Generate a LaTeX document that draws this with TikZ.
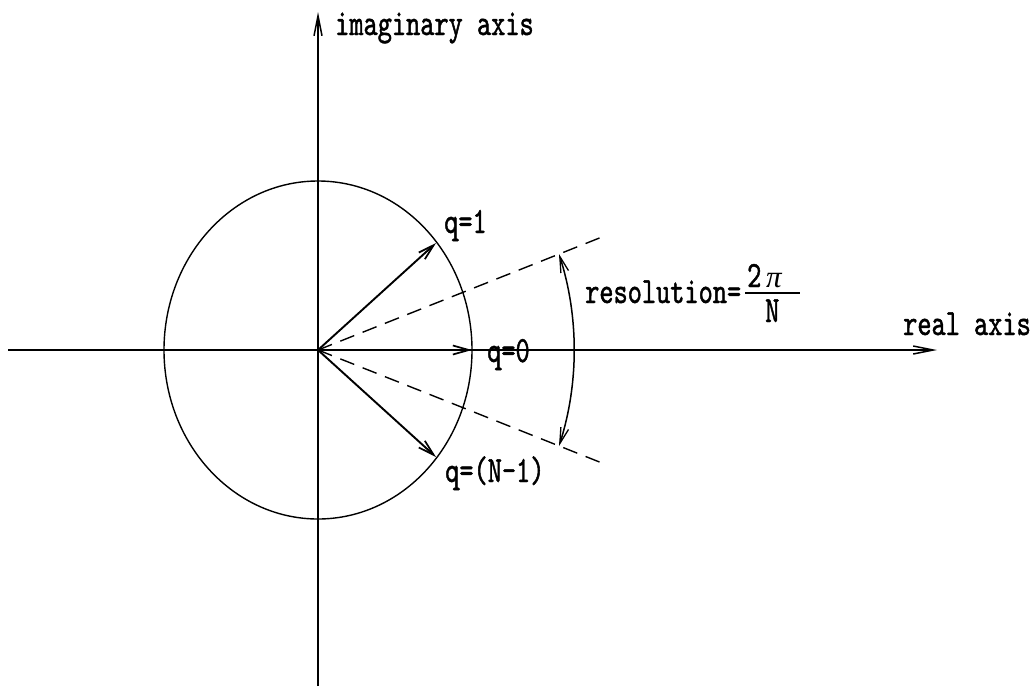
\documentclass[tikz,border=0pt]{standalone}
\usepackage{fontspec}
\usetikzlibrary{arrows.meta}
\newfontfamily\labfont{lmmono10-regular.otf}[FakeStretch=0.73,FakeBold=1.2]
\newfontfamily\pifont{Liberation Serif}
\newcommand\lblfont{\labfont\fontsize{37}{44}\selectfont}
\begin{document}
\begin{tikzpicture}[x=1pt,y=-1pt,
  axisline/.style={line width=1.7pt,-{Straight Barb[length=20pt,width=8pt,line width=1.5pt]}},
  vec/.style={line width=1.9pt,-{Straight Barb[length=16pt,width=9pt,line width=1.7pt]}},
  thinline/.style={line width=1.4pt},
  dashline/.style={line width=1.4pt,dash pattern=on 15pt off 9pt},
  resarc/.style={line width=1.5pt,{Straight Barb[length=16pt,width=8pt,line width=1.3pt]}-{Straight Barb[length=16pt,width=8pt,line width=1.3pt]}},
  lbl/.style={anchor=base west,inner sep=0pt,font=\lblfont}]
\useasboundingbox (0,0) rectangle (1034,686);
% points
\coordinate (O) at (318,350);
\coordinate (Rl) at (8,350);
\coordinate (Rr) at (937,350);
\coordinate (Ib) at (318,686);
\coordinate (It) at (318,12);
\coordinate (A1) at (436,243);
\coordinate (A0) at (472,350);
\coordinate (AN) at (436,457);
\coordinate (D1) at (607,235);
\coordinate (D2) at (607,465);
\coordinate (R1) at (559,254);
% axes
\draw[axisline] (Rl) -- (Rr);
\draw[axisline] (Ib) -- (It);
% circle
\draw[thinline] (O) ellipse [x radius=154, y radius=169];
% dashed sector
\draw[dashline] (O) -- (D1);
\draw[dashline] (O) -- (D2);
% vectors
\draw[vec] (O) -- (A1);
\draw[vec] (O) -- (A0);
\draw[vec] (O) -- (AN);
% resolution arc
\draw[resarc] (R1) arc[start angle=-17.75, end angle=17.75, radius=315];
% labels
\node[lbl] (limag) at (335,35) {imaginary axis};
\node[lbl] (lreal) at (903,335) {real axis};
\node[lbl] (lq1) at (444,233) {q=1};
\node[lbl] (lq0) at (487,362) {q=0};
\node[lbl] (lqn) at (445,482) {q=(N-1)};
\node[lbl] (lres) at (585,303) {resolution=};
\node[lbl] (lnum) at (747,287) {2};
\node[lbl,font=\pifont\itshape\fontsize{31}{36}\selectfont] (lpi) at (766,287) {π};
\node[lbl] (lden) at (765,322) {N};
\coordinate (Fa) at (745,293);
\coordinate (Fb) at (800,293);
\draw[line width=1.4pt] (Fa) -- (Fb);
\end{tikzpicture}
\end{document}
